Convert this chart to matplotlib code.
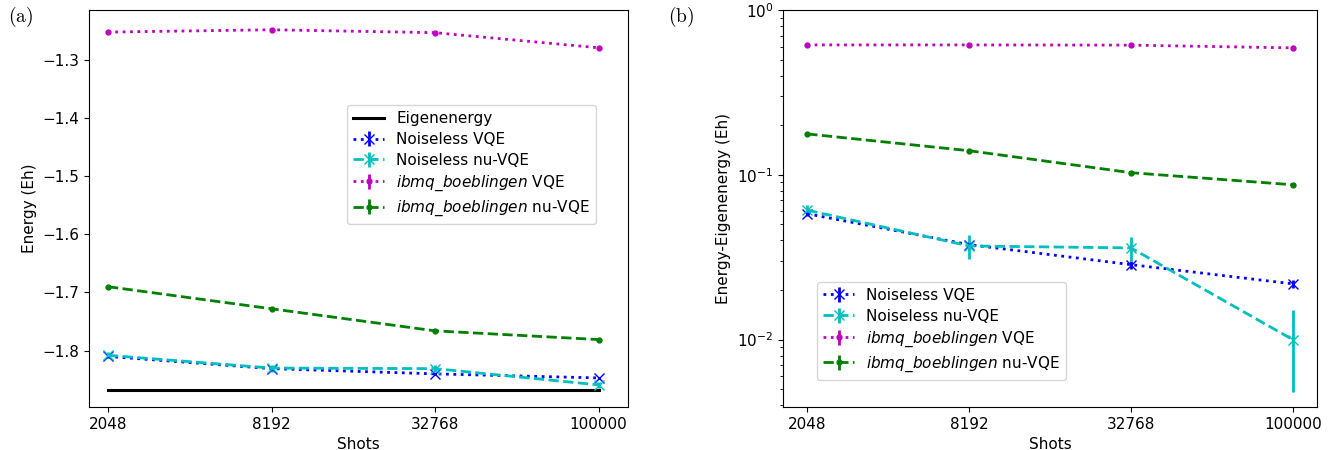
import numpy as np
import matplotlib
matplotlib.use("Agg")
import matplotlib.pyplot as plt

plt.rcParams['mathtext.fontset'] = 'dejavusans'
plt.rcParams['font.size'] = 11

shots = ['2048', '8192', '32768', '100000']
eigenenergy = -1.867

# energies (Eh)
e_vqe = [-1.810, -1.831, -1.840, -1.847]
e_nuvqe = [-1.808, -1.830, -1.831, -1.859]
e_ibm_vqe = [-1.252, -1.248, -1.253, -1.279]
e_ibm_nuvqe = [-1.690, -1.728, -1.766, -1.781]

# energy - eigenenergy (Eh)
d_vqe = [0.058, 0.0377, 0.0285, 0.0218]
d_nuvqe = [0.061, 0.037, 0.036, 0.0100]
d_ibm_vqe = [0.614, 0.614, 0.612, 0.589]
d_ibm_nuvqe = [0.177, 0.140, 0.103, 0.087]

# error bars
err_vqe = [0.002, 0.002, 0.0015, 0.0012]
err_nuvqe = [0.005, 0.006, 0.006, 0.0052]
err_ibm_vqe = [0.003, 0.003, 0.003, 0.003]
err_ibm_nuvqe = [0.002, 0.002, 0.002, 0.002]

labels = ['Noiseless VQE', 'Noiseless nu-VQE',
          r'$\it{ibmq\_boeblingen}$ VQE', r'$\it{ibmq\_boeblingen}$ nu-VQE']

x = np.arange(len(shots))

fig = plt.figure(figsize=(13.28, 4.5), dpi=100)
ax1 = fig.add_axes([89/1328, 43/450, 539/1328, 397/450])
ax2 = fig.add_axes([783/1328, 43/450, 534/1328, 397/450])


def draw(ax, data, errs):
    fmt = [dict(color='b', ls=':', marker='x', ms=7),
           dict(color='c', ls='--', marker='x', ms=7),
           dict(color='m', ls=':', marker='.', ms=7),
           dict(color='g', ls='--', marker='.', ms=7)]
    for d, e, f, lab in zip(data, errs, fmt, labels):
        ax.errorbar(x, d, yerr=e, lw=2, label=lab, **f)


ax1.plot(x, [eigenenergy] * len(x), 'k-', lw=2.2, label='Eigenenergy')
draw(ax1, [e_vqe, e_nuvqe, e_ibm_vqe, e_ibm_nuvqe],
     [err_vqe, err_nuvqe, err_ibm_vqe, err_ibm_nuvqe])
ax1.set_xlim(-0.116, 3.18)
ax1.set_ylim(-1.897, -1.214)
ax1.set_xticks(x)
ax1.set_xticklabels(shots)
ax1.set_xlabel('Shots')
ax1.set_ylabel('Energy (Eh)')
ax1.legend(loc='upper left', bbox_to_anchor=(0.465, 0.78), labelspacing=0.38)

draw(ax2, [d_vqe, d_nuvqe, d_ibm_vqe, d_ibm_nuvqe],
     [err_vqe, err_nuvqe, err_ibm_vqe, err_ibm_nuvqe])
ax2.set_yscale('log')
ax2.set_xlim(-0.15, 3.15)
ax2.set_ylim(0.0039, 1.0)
ax2.set_xticks(x)
ax2.set_xticklabels(shots)
ax2.set_xlabel('Shots')
ax2.set_ylabel('Energy-Eigenenergy (Eh)')
ax2.legend(loc='upper left', bbox_to_anchor=(0.05, 0.335), labelspacing=0.38)

fig.text(8/1328, 1 - 17/450, r'$\mathrm{(a)}$', fontsize=14, math_fontfamily='cm', va='center')
fig.text(668/1328, 1 - 17/450, r'$\mathrm{(b)}$', fontsize=14, math_fontfamily='cm', va='center')

fig.savefig('out.png', dpi=100)
